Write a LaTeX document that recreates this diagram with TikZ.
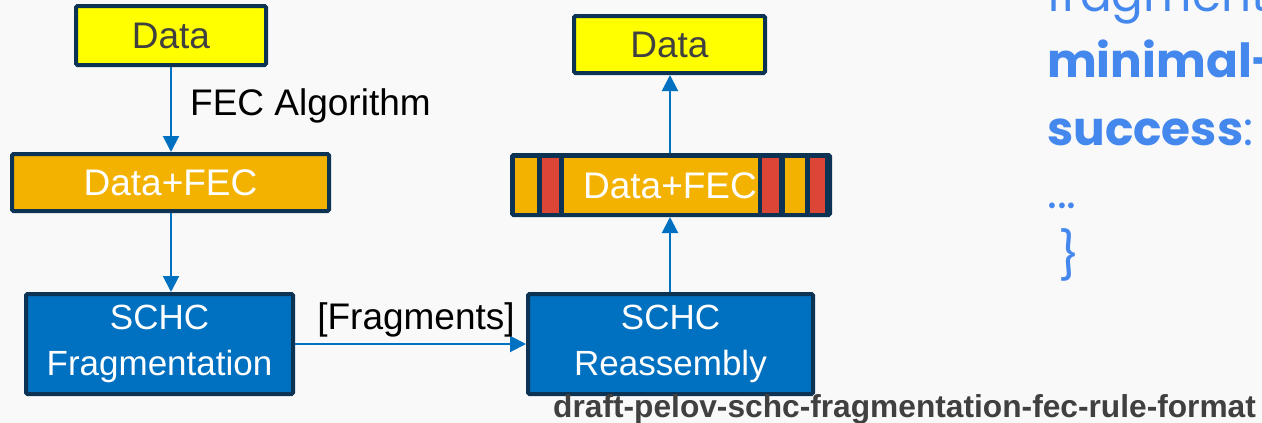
\documentclass[tikz,border=0pt]{standalone}
\usepackage{fontspec}
\setmainfont{Liberation Sans}
\newfontfamily\geofont{Poppins}
\usetikzlibrary{arrows.meta}
\definecolor{bgc}{RGB}{249,249,249}
\definecolor{navy}{RGB}{12,50,84}
\definecolor{dyellow}{RGB}{255,255,0}
\definecolor{dorange}{RGB}{243,178,0}
\definecolor{dblue}{RGB}{0,112,192}
\definecolor{dred}{RGB}{220,70,55}
\definecolor{txtgray}{RGB}{64,64,64}
\definecolor{codeblue}{RGB}{68,136,238}
\begin{document}
\begin{tikzpicture}[x=1pt,y=-1pt,
  box/.style={draw=navy,line width=4pt,rounded corners=1.5pt,inner sep=0pt,align=center,
              font=\fontsize{37}{42}\selectfont},
  databox/.style={box,fill=dyellow,text=txtgray},
  fecbox/.style={box,fill=dorange,text=white},
  schcbox/.style={box,fill=dblue,text=white,font=\fontsize{35}{46}\selectfont},
  flow/.style={draw=dblue,line width=2pt,-{Triangle[length=16pt,width=16pt]}},
  lbl/.style={inner sep=0pt,text=black,font=\fontsize{37}{42}\selectfont},
  code/.style={inner sep=0pt,anchor=base west,text=codeblue,font=\geofont\fontsize{47}{52}\selectfont}
]
\fill[bgc] (0,0) rectangle (1262,423);
\useasboundingbox (0,0) rectangle (1262,423);
\clip (0,0) rectangle (1262,423);

% sender side
\node[databox,minimum width=190pt,minimum height=59pt] (dataL) at (171,35.5) {Data};
\node[fecbox,minimum width=317pt,minimum height=57pt] (fecL) at (170.5,182.5) {Data+FEC};
\node[schcbox,minimum width=267pt,minimum height=100pt] (frag) at (159.5,344) {SCHC\\Fragmentation};

% receiver side
\node[schcbox,minimum width=285pt,minimum height=100pt] (reas) at (670.5,344) {SCHC\\Reassembly};
\node[box,fill=navy,minimum width=318pt,minimum height=60pt] (fecR) at (671,185) {};
\fill[dorange] (515,158) rectangle (537,213);
\fill[dred] (542,158) rectangle (559,213);
\fill[dorange] (564,158) rectangle (758,213);
\fill[dred] (762,158) rectangle (779,213);
\fill[dorange] (785,158) rectangle (805,213);
\fill[dred] (810,158) rectangle (825,213);
\node[inner sep=0pt,text=white,font=\fontsize{37}{42}\selectfont] (fecRt) at (670,186) {Data+FEC};
\node[databox,minimum width=191pt,minimum height=57pt] (dataR) at (669.5,44.5) {Data};

% connectors
\draw[flow] (dataL.south) -- (fecL.north -| dataL.south);
\draw[flow] (fecL.south -| dataL.south) -- (frag.north -| dataL.south);
\draw[flow] (frag.east) -- (reas.west);
\draw[flow] (reas.north -| fecRt.south) -- (fecR.south -| fecRt.south);
\draw[flow] (fecR.north -| fecRt.south) -- (dataR.south -| fecRt.south);

% connector labels
\node[lbl,anchor=west] (alg) at (190,106) {FEC Algorithm};
\node[lbl] (frlbl) at (416,320) {[Fragments]};

% caption
\node[inner sep=0pt,anchor=base west,text=txtgray,font=\bfseries\fontsize{31.7}{36}\selectfont] (cap) at (553,417)
  {draft-pelov-schc-fragmentation-fec-rule-format};

% rule text on the right
\node[code] (c1) at (1047,11) {fragmentation-};
\node[code] (c2) at (1047,77) {\bfseries minimal-};
\node[code] (c3) at (1047,145) {\textbf{success}:};
\node[code] (c4) at (1047,208) {...};
\node[code] (c5) at (1058,272) {\}};
\end{tikzpicture}
\end{document}
